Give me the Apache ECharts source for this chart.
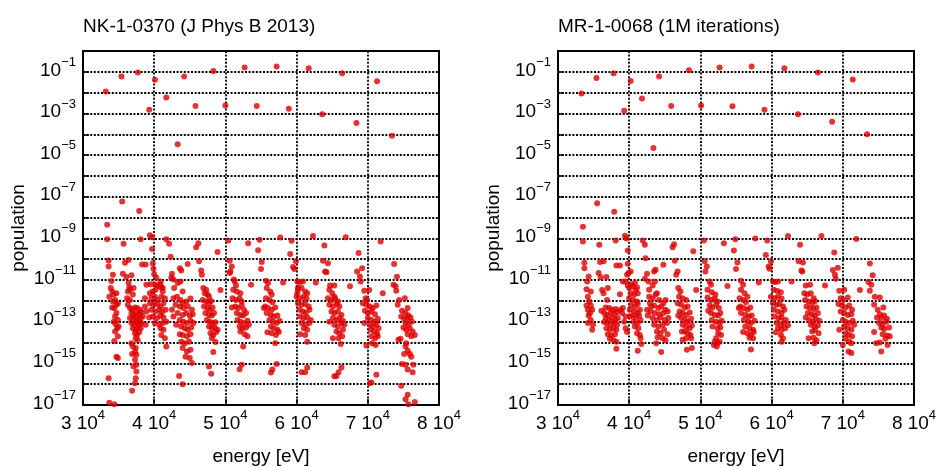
<!DOCTYPE html>
<html><head><meta charset="utf-8">
<script src="https://cdn.jsdelivr.net/npm/echarts@6/dist/echarts.min.js"></script>
<style>html,body{margin:0;padding:0;background:#fff}#c{width:938px;height:467px}</style>
</head><body><div id="c"></div>
<script>
const titles = ['NK-1-0370 (J Phys B 2013)', 'MR-1-0068 (1M iterations)'];
const xName = 'energy [eV]';
const yName = 'population';
const xTickMantissas = [3, 4, 5, 6, 7, 8];
const yLabelExponents = [-1, -3, -5, -7, -9, -11, -13, -15, -17];

// [energy eV, population]
const nkHigh = [[33.2e3,1.15e-2],[35.4e3,6.0e-2],[37.7e3,9.4e-2],[39.3e3,1.5e-3],[40.1e3,4.2e-2],[41.7e3,5.9e-3],[43.3e3,3.3e-5],[44.2e3,6.0e-2],[45.8e3,2.3e-3],[48.3e3,1.1e-1],[50.0e3,2.4e-3],[52.7e3,1.6e-1],[54.4e3,2.3e-3],[57.2e3,1.8e-1],[58.9e3,1.7e-3],[61.7e3,1.5e-1],[63.6e3,9.3e-4],[66.4e3,8.5e-2],[68.4e3,3.5e-4],[71.3e3,3.5e-2],[73.4e3,8.5e-5],[35.5e3,5.9e-8],[37.9e3,2.1e-8],[33.4e3,4.5e-9]];

const nkLow = [
[33.4e3,9e-10],[35.7e3,5.6e-10],[38.1e3,9e-10],[39.4e3,1.4e-9],[39.7e3,1.15e-9],[39.7e3,3.1e-10],[41.7e3,9e-10],[42.1e3,5.6e-10],[46.2e3,5.8e-10],[45.9e3,3.8e-10],
[33.6e3,8.7e-11],[33.6e3,4.5e-11],[35.9e3,6.7e-11],[36.4e3,9.3e-11],[38.3e3,5.6e-11],[38.8e3,5.6e-11],[39.8e3,6.5e-11],[42.3e3,1.3e-10],[43.6e3,3.7e-11],[43.8e3,2.9e-11],[44.7e3,5.9e-11],[46.3e3,7.9e-11],
[34.2e3,1.8e-11],[34.0e3,9.1e-12],[33.9e3,4.1e-12],[33.7e3,1.6e-12],[35.6e3,2.0e-11],[36.1e3,1.4e-11],[36.8e3,1.7e-11],[37.1e3,4.1e-12],[36.5e3,4.4e-12],[36.3e3,2.8e-12],[39.9e3,3.5e-11],[40.0e3,1.9e-11],[40.3e3,1.3e-11],[39.5e3,6.3e-12],[38.9e3,6e-12],[40.2e3,6e-12],[40.9e3,8.5e-12],[41.0e3,4.4e-12],[41.2e3,2.8e-12],[42.5e3,2.0e-11],[42.4e3,1.3e-11],[42.7e3,1.05e-11],[43.7e3,8.5e-12],[43.3e3,7.2e-12],[42.8e3,4.1e-12],[44.0e3,2.8e-12],
[34.1e3,2.8e-12],[34.3e3,2.0e-12],[34.5e3,1.1e-12],[34.7e3,2.3e-12],[34.2e3,9.3e-13],[34.7e3,6.5e-13],[34.4e3,4.5e-13],[34.9e3,7.8e-13],[34.1e3,4.8e-13],[34.7e3,2.6e-13],[34.5e3,1.8e-13],[34.3e3,1.0e-13],[34.9e3,1.2e-13],[34.6e3,7.6e-14],[34.8e3,4.9e-14],[35.0e3,5.9e-14],[34.5e3,3.4e-14],[34.9e3,2.0e-14],[34.4e3,1.2e-14],[34.7e3,2.1e-15],[34.9e3,1.8e-15],[33.6e3,1.9e-16],[33.7e3,1.3e-17],[34.4e3,1.1e-17],
[36.6e3,4.5e-13],[36.9e3,3.7e-13],[37.3e3,4.8e-13],[37.6e3,4.5e-13],[38.0e3,3.7e-13],[36.8e3,2.6e-13],[37.1e3,2.1e-13],[37.5e3,2.6e-13],[37.9e3,2.3e-13],[38.2e3,2.9e-13],[36.6e3,1.5e-13],[37.0e3,1.4e-13],[37.4e3,1.6e-13],[37.7e3,1.2e-13],[38.1e3,1.5e-13],[38.4e3,1.8e-13],[36.8e3,8.7e-14],[37.2e3,7.1e-14],[37.5e3,9.3e-14],[37.9e3,7.1e-14],[38.2e3,8.7e-14],[37.0e3,4.9e-14],[37.4e3,4.1e-14],[37.7e3,4.9e-14],[38.1e3,4.9e-14],[37.3e3,2.8e-14],[37.6e3,2.3e-14],[37.9e3,3.2e-14],[37.4e3,1.6e-14],[37.7e3,1.3e-14],[36.8e3,9.3e-15],[37.0e3,6.5e-15],[37.4e3,5.4e-15],[37.3e3,3.5e-15],[36.9e3,2.8e-15],[37.5e3,2.6e-15],[37.3e3,1.5e-15],[37.5e3,8.5e-16],[37.1e3,7.1e-16],[37.5e3,4.1e-16],[37.4e3,1.9e-16],[37.3e3,1.1e-16],[36.9e3,4.9e-17],[36.4e3,7.2e-12],[36.6e3,3.4e-12],[36.2e3,1.35e-12],[36.6e3,1.1e-12],[37.0e3,2.0e-12],[36.3e3,6.5e-13],
[39.4e3,2.3e-12],[39.8e3,2.8e-12],[40.2e3,3.4e-12],[40.5e3,5.0e-12],[40.9e3,6.0e-12],[41.2e3,4.1e-12],[39.6e3,1.35e-12],[40.1e3,1.6e-12],[40.5e3,1.1e-12],[41.0e3,1.6e-12],[41.5e3,1.35e-12],[39.4e3,7.8e-13],[39.9e3,6.5e-13],[40.4e3,7.0e-13],[40.9e3,5.3e-13],[41.3e3,7.8e-13],[39.6e3,3.7e-13],[40.2e3,3.1e-13],[40.7e3,3.7e-13],[41.1e3,2.9e-13],[41.6e3,3.7e-13],[39.8e3,1.8e-13],[40.4e3,1.5e-13],[40.9e3,2.0e-13],[41.3e3,1.6e-13],[40.1e3,8.7e-14],[40.7e3,7.1e-14],[41.2e3,8.7e-14],[41.7e3,1.0e-13],[40.9e3,4.9e-14],[41.3e3,4.1e-14],[41.0e3,2.3e-14],[41.5e3,1.6e-14],[41.7e3,6.5e-15],[38.7e3,5.3e-13],[38.9e3,3.1e-13],[39.3e3,1.6e-13],[38.8e3,7.1e-14],[38.7e3,1.35e-12],
[42.7e3,1.35e-12],[43.2e3,1.6e-12],[43.7e3,1.1e-12],[44.0e3,7.8e-13],[44.5e3,9.3e-13],[45.1e3,1.3e-12],[43.0e3,6.5e-13],[43.6e3,5.3e-13],[44.1e3,4.5e-13],[44.7e3,5.3e-13],[45.3e3,3.7e-13],[43.3e3,2.6e-13],[44.0e3,2.1e-13],[44.5e3,2.6e-13],[45.0e3,2.0e-13],[45.4e3,2.3e-13],[43.6e3,1.2e-13],[44.1e3,1.0e-13],[44.6e3,8.7e-14],[45.1e3,1.1e-13],[45.5e3,8.7e-14],[43.8e3,5.9e-14],[44.3e3,4.9e-14],[44.7e3,4.1e-14],[45.2e3,5.2e-14],[44.0e3,2.3e-14],[44.6e3,2.0e-14],[45.1e3,2.5e-14],[43.8e3,1.1e-14],[44.3e3,9.3e-15],[44.9e3,1.1e-14],[44.0e3,5.4e-15],[44.6e3,3.7e-15],[45.1e3,4.5e-15],[44.4e3,2.1e-15],[45.0e3,1.8e-15],[45.3e3,1.05e-15],[43.5e3,2.5e-16],[44.0e3,1.0e-16],[42.5e3,3.7e-13],[42.7e3,1.8e-13],[43.1e3,7.1e-14],[43.6e3,2.5e-14],
[46.9e3,4.1e-12],[47.3e3,3.4e-12],[47.1e3,2.3e-12],[47.5e3,2.0e-12],[47.7e3,1.6e-12],[46.8e3,1.1e-12],[47.3e3,9.3e-13],[47.7e3,7.8e-13],[48.0e3,1.0e-12],[47.0e3,5.3e-13],[47.5e3,4.5e-13],[47.8e3,3.7e-13],[48.2e3,4.8e-13],[47.2e3,2.6e-13],[47.7e3,2.1e-13],[48.1e3,2.0e-13],[48.4e3,2.6e-13],[47.4e3,1.2e-13],[47.8e3,1.0e-13],[48.2e3,8.7e-14],[48.6e3,9.3e-14],[47.7e3,5.9e-14],[48.1e3,4.9e-14],[48.5e3,5.2e-14],[48.9e3,4.1e-14],[47.9e3,2.8e-14],[48.3e3,2.3e-14],[48.7e3,3.2e-14],[48.1e3,1.6e-14],[48.6e3,1.05e-14],[48.3e3,3.5e-15],[47.7e3,7.1e-16],[48.0e3,3.2e-16],[49.3e3,3.3e-12],[48.9e3,2.2e-10],[46.6e3,2.9e-11],[46.7e3,1.8e-11],
[50.4e3,7.9e-10],[53.2e3,5.8e-10],[54.8e3,8.6e-10],[54.6e3,2.7e-10],[57.7e3,1.1e-9],[59.3e3,7.7e-10],[62.3e3,1.3e-9],[59.1e3,1.8e-10],[59.9e3,7.9e-11],[55.1e3,7.3e-11],[55.0e3,3.4e-11],[50.6e3,8.5e-11],[50.9e3,4.5e-11],[50.7e3,2.6e-11],[50.6e3,2.2e-11],[51.2e3,1.05e-11],[53.6e3,6.0e-12],[58.1e3,7.7e-12],[62.7e3,7.7e-12],[59.5e3,4.2e-11],[59.7e3,3.4e-11],
[51.3e3,8.6e-12],[51.5e3,5.5e-12],[51.1e3,3.4e-12],[51.6e3,2.8e-12],[52.1e3,2.3e-12],[51.0e3,1.35e-12],[51.5e3,1.1e-12],[52.0e3,1.3e-12],[52.3e3,9.3e-13],[51.4e3,5.3e-13],[51.8e3,4.5e-13],[52.3e3,6.0e-13],[52.6e3,3.7e-13],[51.6e3,2.6e-13],[52.1e3,2.1e-13],[52.5e3,2.0e-13],[52.9e3,2.6e-13],[51.7e3,1.2e-13],[52.1e3,1.0e-13],[52.6e3,8.7e-14],[53.1e3,1.1e-13],[52.0e3,5.9e-14],[52.4e3,4.9e-14],[52.9e3,5.2e-14],[53.3e3,7.1e-14],[52.1e3,3.4e-14],[52.7e3,2.5e-14],[53.1e3,2.0e-14],[52.5e3,6.5e-15],[52.3e3,8.5e-16],[52.0e3,5.2e-16],[50.9e3,4.8e-13],
[55.7e3,9.3e-12],[56.0e3,7.2e-12],[55.8e3,4.1e-12],[56.3e3,2.8e-12],[56.5e3,2.0e-12],[55.7e3,1.35e-12],[56.2e3,1.1e-12],[56.6e3,8.6e-13],[55.6e3,5.3e-13],[56.0e3,4.5e-13],[56.5e3,3.7e-13],[57.0e3,4.8e-13],[55.8e3,2.6e-13],[56.4e3,2.1e-13],[56.8e3,1.8e-13],[57.3e3,2.0e-13],[56.2e3,1.2e-13],[56.7e3,1.0e-13],[57.2e3,8.7e-14],[57.6e3,1.1e-13],[56.4e3,5.9e-14],[56.8e3,4.9e-14],[57.3e3,4.1e-14],[56.5e3,2.8e-14],[57.1e3,2.3e-14],[57.5e3,3.2e-14],[57.0e3,9.3e-15],[57.2e3,9.2e-16],[56.6e3,5.0e-16],[56.4e3,3.6e-16],[55.9e3,3.1e-14],[55.4e3,4.5e-13],
[60.1e3,8.6e-12],[60.5e3,8.0e-12],[60.9e3,8.6e-12],[60.2e3,3.4e-12],[60.7e3,4.1e-12],[61.2e3,2.8e-12],[61.5e3,2.3e-12],[60.0e3,1.6e-12],[60.5e3,1.35e-12],[61.0e3,1.6e-12],[61.4e3,1.3e-12],[60.2e3,7.8e-13],[60.7e3,6.5e-13],[61.2e3,7.0e-13],[61.7e3,5.3e-13],[60.4e3,3.7e-13],[60.9e3,3.1e-13],[61.3e3,2.6e-13],[61.8e3,3.7e-13],[60.5e3,1.8e-13],[61.0e3,1.5e-13],[61.5e3,1.6e-13],[62.0e3,1.2e-13],[60.7e3,8.7e-14],[61.3e3,7.1e-14],[61.8e3,8.7e-14],[61.0e3,4.9e-14],[61.5e3,4.1e-14],[60.5e3,2.5e-14],[61.2e3,2.3e-14],[61.5e3,1.1e-14],[60.7e3,3.7e-16],[61.2e3,3.7e-16],[61.5e3,6.3e-16],[60.2e3,4.4e-12],[60.1e3,2.3e-12],
[63.9e3,4.6e-10],[66.9e3,1.15e-9],[63.7e3,8.5e-11],[64.4e3,6.5e-11],[64.0e3,2.6e-11],[64.2e3,2.4e-11],[64.7e3,5.5e-12],[65.3e3,5.5e-12],[67.5e3,5.0e-12],
[64.6e3,3.4e-12],[65.0e3,2.3e-12],[65.3e3,1.6e-12],[64.4e3,1.35e-12],[64.9e3,1.1e-12],[65.4e3,1.3e-12],[65.8e3,9.3e-13],[64.6e3,6.5e-13],[65.1e3,5.3e-13],[65.6e3,7.0e-13],[66.0e3,5.3e-13],[64.9e3,3.1e-13],[65.3e3,2.6e-13],[65.8e3,3.1e-13],[66.3e3,2.1e-13],[65.1e3,1.5e-13],[65.6e3,1.2e-13],[66.0e3,1.5e-13],[66.5e3,1.1e-13],[64.6e3,1.0e-13],[65.3e3,7.1e-14],[65.8e3,5.9e-14],[66.3e3,8.7e-14],[66.7e3,7.1e-14],[65.6e3,3.4e-14],[66.0e3,2.8e-14],[66.5e3,4.1e-14],[65.9e3,1.6e-14],[66.4e3,2.0e-14],[65.1e3,1.6e-14],[66.2e3,8.4e-15],[66.3e3,6.3e-16],[65.9e3,3.7e-16],[65.6e3,2.5e-16],[65.3e3,2.4e-16],
[68.7e3,2.0e-10],[68.5e3,2.6e-11],[69.2e3,3.7e-11],[68.9e3,1.5e-11],[69.0e3,8.6e-12],[71.8e3,7.2e-10],[69.5e3,3.1e-12],[70.2e3,3.3e-12],[72.1e3,2.3e-12],
[69.7e3,1.35e-12],[69.9e3,1.1e-12],[69.3e3,7.8e-13],[69.8e3,6.5e-13],[70.3e3,5.3e-13],[70.7e3,4.5e-13],[71.2e3,6.0e-13],[69.6e3,3.4e-13],[70.0e3,2.6e-13],[70.5e3,3.1e-13],[71.0e3,2.3e-13],[70.0e3,1.5e-13],[70.5e3,1.2e-13],[71.0e3,1.0e-13],[71.4e3,1.4e-13],[69.5e3,8.7e-14],[70.3e3,7.1e-14],[70.7e3,5.9e-14],[71.2e3,7.1e-14],[71.5e3,4.9e-14],[70.4e3,4.1e-14],[70.9e3,3.4e-14],[71.3e3,2.8e-14],[70.5e3,2.0e-14],[71.0e3,1.6e-14],[71.4e3,2.0e-14],[70.6e3,9.3e-15],[71.1e3,7.7e-15],[69.8e3,7.2e-15],[71.2e3,2.8e-16],[70.5e3,1.2e-16],[70.3e3,1.1e-16],
[73.7e3,5.9e-11],[74.1e3,1.45e-11],[73.6e3,6.0e-12],[73.9e3,5.0e-12],[74.0e3,3.1e-12],[74.4e3,1.1e-12],[75.2e3,1.35e-12],
[75.6e3,4.5e-13],[74.2e3,6.5e-13],[74.8e3,3.4e-13],[75.3e3,2.6e-13],[75.7e3,2.0e-13],[74.7e3,1.8e-13],[75.1e3,1.4e-13],[75.6e3,1.5e-13],[76.0e3,1.6e-13],[75.3e3,8.7e-14],[75.7e3,7.1e-14],[76.2e3,1.0e-13],[75.0e3,5.2e-14],[75.4e3,4.1e-14],[75.9e3,4.9e-14],[76.3e3,3.4e-14],[76.6e3,2.3e-14],[75.6e3,2.5e-14],[76.1e3,2.0e-14],[74.3e3,1.35e-14],[74.6e3,1.5e-14],[75.4e3,9.3e-15],[75.3e3,6.5e-15],[75.6e3,4.0e-15],[75.9e3,2.8e-15],[76.1e3,2.1e-15],[75.1e3,2.8e-15],[74.8e3,9.2e-16],[75.3e3,8.5e-16],[75.6e3,5.0e-16],[76.4e3,8.5e-16],[76.3e3,3.7e-16],[74.7e3,8.5e-17],[75.6e3,3.1e-17],[75.3e3,1.9e-17],[76.6e3,1.4e-17],[75.7e3,1.1e-17]
];

const mrHigh = [[33.3e3,9.2e-3],[35.4e3,5.0e-2],[37.8e3,8.5e-2],[39.3e3,1.35e-3],[40.2e3,3.6e-2],[41.8e3,5.3e-3],[43.4e3,2.2e-5],[44.2e3,5.9e-2],[45.9e3,2.3e-3],[48.4e3,1.2e-1],[50.1e3,2.4e-3],[52.7e3,1.6e-1],[54.5e3,2.2e-3],[57.2e3,1.8e-1],[59.0e3,1.5e-3],[61.8e3,1.5e-1],[63.7e3,9.3e-4],[66.5e3,9.4e-2],[68.5e3,4.0e-4],[71.4e3,4.3e-2],[73.4e3,1.0e-4],[35.5e3,4.9e-8],[37.9e3,1.9e-8],[33.5e3,3.6e-9]];

const mrLow = [
[33.5e3,7.2e-10],[35.8e3,5.0e-10],[38.1e3,8.0e-10],[39.4e3,1.35e-9],[39.6e3,1.0e-9],[39.8e3,2.6e-10],[41.9e3,8.0e-10],[42.2e3,5.0e-10],[46.3e3,5.3e-10],[46.1e3,3.8e-10],[42.3e3,1.1e-10],[33.7e3,6.8e-11],[33.7e3,3.7e-11],[35.9e3,7.3e-11],[36.4e3,7.9e-11],[38.2e3,5.0e-11],[38.7e3,5.0e-11],[39.8e3,6.1e-11],[43.7e3,3.1e-11],[43.5e3,2.6e-11],[44.8e3,5.4e-11],[46.4e3,8.5e-11],[39.9e3,2.2e-11],[40.2e3,2.6e-11],[39.7e3,1.8e-11],[35.7e3,2.2e-11],[36.0e3,1.35e-11],[36.8e3,1.4e-11],[34.3e3,1.5e-11],[34.1e3,8.6e-12],[34.0e3,3.6e-12],[34.6e3,2.8e-12],[34.2e3,1.6e-12],[36.2e3,3.3e-12],[37.0e3,4.1e-12],[36.4e3,2.3e-12],[36.9e3,1.1e-12],[38.7e3,2.1e-12],[39.1e3,8.6e-12],[39.5e3,8.6e-12],[39.8e3,5.5e-12],[40.3e3,6.3e-12],[40.8e3,7.2e-12],[41.1e3,4.4e-12],[42.5e3,2.0e-11],[42.2e3,1.15e-11],[42.7e3,8.6e-12],[43.6e3,8.6e-12],[43.3e3,5.5e-12],[42.8e3,3.4e-12],[43.9e3,2.3e-12],[45.1e3,1.1e-12],
[34.4e3,9.3e-13],[34.0e3,6.0e-13],[34.6e3,6.0e-13],[34.2e3,3.7e-13],[34.8e3,3.7e-13],[34.5e3,2.6e-13],[34.3e3,2.0e-13],[34.6e3,1.2e-13],[34.2e3,8.7e-14],[34.9e3,7.1e-14],[34.8e3,4.1e-14],
[36.7e3,4.8e-13],[37.2e3,4.5e-13],[37.6e3,3.7e-13],[38.1e3,4.1e-13],[36.5e3,2.6e-13],[36.9e3,2.1e-13],[37.4e3,2.6e-13],[37.9e3,2.3e-13],[38.3e3,2.9e-13],[36.7e3,1.5e-13],[37.2e3,1.2e-13],[37.6e3,1.5e-13],[38.1e3,1.2e-13],[36.9e3,8.7e-14],[37.4e3,7.1e-14],[37.9e3,8.7e-14],[38.3e3,7.1e-14],[36.8e3,4.9e-14],[37.3e3,4.1e-14],[37.8e3,4.9e-14],[38.2e3,4.1e-14],[37.0e3,2.5e-14],[37.5e3,2.2e-14],[38.0e3,2.5e-14],[37.3e3,1.5e-14],[37.8e3,1.3e-14],[38.2e3,1.1e-14],[38.2e3,5.0e-15],[36.1e3,3.4e-13],[36.5e3,9.6e-14],[38.4e3,1.5e-13],[38.8e3,3.7e-13],[39.0e3,2.6e-13],[39.1e3,4.5e-13],[39.5e3,1.8e-13],[39.3e3,1.0e-13],[39.5e3,4.9e-14],[39.7e3,3.2e-14],
[40.0e3,4.1e-12],[40.5e3,5.0e-12],[40.9e3,3.4e-12],[40.2e3,2.3e-12],[40.7e3,2.0e-12],[41.2e3,2.3e-12],[40.0e3,1.35e-12],[40.6e3,1.1e-12],[41.1e3,9.3e-13],[40.3e3,6.5e-13],[40.8e3,5.3e-13],[41.2e3,7.0e-13],[40.1e3,3.7e-13],[40.7e3,3.1e-13],[41.2e3,2.6e-13],[41.5e3,3.7e-13],[40.5e3,2.0e-13],[40.9e3,1.6e-13],[41.4e3,2.0e-13],[40.6e3,1.0e-13],[41.2e3,8.7e-14],[41.6e3,1.2e-13],[40.8e3,5.9e-14],[41.3e3,4.9e-14],[41.1e3,2.8e-14],[41.5e3,2.3e-14],[41.6e3,1.6e-14],[41.7e3,8.4e-15],[41.2e3,4.0e-15],[40.1e3,1.8e-13],
[42.8e3,1.6e-12],[43.3e3,1.35e-12],[43.7e3,2.0e-12],[44.2e3,1.1e-12],[44.8e3,7.8e-13],[42.9e3,7.8e-13],[43.5e3,6.0e-13],[44.1e3,4.5e-13],[44.5e3,5.3e-13],[45.1e3,3.7e-13],[43.0e3,3.1e-13],[43.6e3,2.6e-13],[44.2e3,2.3e-13],[44.8e3,2.6e-13],[45.4e3,3.1e-13],[43.3e3,1.5e-13],[43.9e3,1.2e-13],[44.4e3,1.6e-13],[45.0e3,1.2e-13],[45.5e3,1.5e-13],[43.5e3,7.1e-14],[44.1e3,5.9e-14],[44.7e3,7.1e-14],[45.3e3,8.7e-14],[43.9e3,3.4e-14],[44.4e3,2.8e-14],[44.9e3,4.1e-14],[45.4e3,2.5e-14],[44.0e3,1.8e-14],[44.7e3,1.6e-14],[45.1e3,1.3e-14],[43.8e3,9.3e-15],[44.5e3,3.5e-15],[42.5e3,3.7e-13],[42.6e3,2.0e-13],[43.1e3,5.3e-13],
[49.0e3,2.4e-10],[50.5e3,8.0e-10],[53.3e3,5.8e-10],[54.9e3,9.0e-10],[54.7e3,2.6e-10],[57.7e3,1.0e-9],[59.4e3,8.0e-10],[59.2e3,1.6e-10],[62.3e3,1.3e-9],[59.9e3,7.9e-11],[59.6e3,4.5e-11],[59.7e3,3.5e-11],[55.2e3,7.0e-11],[55.0e3,3.4e-11],[50.6e3,7.9e-11],[50.9e3,4.5e-11],[50.7e3,2.6e-11],[46.8e3,2.6e-11],[46.6e3,1.8e-11],[49.4e3,3.3e-12],[53.8e3,5.2e-12],[58.2e3,7.7e-12],[62.8e3,8.6e-12],
[46.9e3,4.1e-12],[47.2e3,2.8e-12],[47.0e3,1.6e-12],[47.5e3,1.35e-12],[48.0e3,1.1e-12],[46.8e3,7.8e-13],[47.3e3,6.5e-13],[47.8e3,4.8e-13],[48.2e3,5.3e-13],[47.1e3,3.1e-13],[47.5e3,2.6e-13],[48.0e3,2.1e-13],[48.5e3,2.8e-13],[47.3e3,1.5e-13],[47.8e3,1.2e-13],[48.2e3,1.0e-13],[48.7e3,1.4e-13],[47.5e3,7.1e-14],[48.0e3,5.9e-14],[48.5e3,4.9e-14],[48.8e3,6.6e-14],[47.8e3,3.4e-14],[48.2e3,2.8e-14],[48.6e3,2.3e-14],[47.4e3,3.4e-14],[47.5e3,1.35e-14],[48.0e3,1.6e-14],[48.7e3,1.6e-14],[48.1e3,4.5e-15],[48.8e3,5.4e-15],[46.9e3,2.0e-13],
[51.3e3,8.6e-12],[51.5e3,6.0e-12],[51.0e3,3.4e-12],[51.6e3,2.6e-12],[52.1e3,2.0e-12],[51.0e3,1.45e-12],[51.5e3,1.1e-12],[52.0e3,1.3e-12],[52.4e3,9.3e-13],[51.3e3,6.0e-13],[51.7e3,4.8e-13],[52.2e3,6.5e-13],[52.6e3,4.5e-13],[51.5e3,2.6e-13],[52.0e3,2.1e-13],[52.5e3,2.0e-13],[52.8e3,2.6e-13],[51.6e3,1.2e-13],[52.2e3,1.0e-13],[52.7e3,8.7e-14],[53.0e3,1.1e-13],[51.7e3,5.9e-14],[52.4e3,4.9e-14],[52.8e3,5.2e-14],[52.5e3,2.8e-14],[52.9e3,2.3e-14],[52.2e3,1.6e-14],[52.0e3,1.1e-14],[52.4e3,9.3e-15],[52.7e3,1.1e-14],[52.3e3,6.5e-15],[51.9e3,7.7e-15],[51.1e3,3.4e-13],
[55.7e3,9.3e-12],[56.0e3,6.0e-12],[55.7e3,3.4e-12],[56.2e3,2.3e-12],[56.6e3,1.6e-12],[55.5e3,1.35e-12],[56.0e3,1.1e-12],[56.4e3,8.6e-13],[55.6e3,5.3e-13],[56.1e3,4.5e-13],[56.6e3,3.7e-13],[57.0e3,4.8e-13],[55.7e3,2.6e-13],[56.3e3,2.1e-13],[56.8e3,1.8e-13],[57.2e3,2.0e-13],[56.1e3,1.2e-13],[56.7e3,1.0e-13],[57.1e3,8.7e-14],[57.6e3,1.1e-13],[56.3e3,5.9e-14],[56.9e3,4.9e-14],[57.4e3,4.1e-14],[56.6e3,2.8e-14],[57.1e3,2.3e-14],[57.5e3,3.2e-14],[57.4e3,1.6e-14],[56.9e3,1.7e-14],[57.1e3,4.6e-15],[56.0e3,3.2e-14],[55.4e3,4.5e-13],
[60.2e3,8.6e-12],[60.5e3,8.0e-12],[60.9e3,8.6e-12],[60.3e3,3.4e-12],[60.8e3,3.0e-12],[61.3e3,2.6e-12],[59.9e3,1.6e-12],[60.4e3,1.35e-12],[60.9e3,1.6e-12],[61.4e3,1.3e-12],[60.2e3,7.8e-13],[60.7e3,6.5e-13],[61.1e3,7.0e-13],[61.6e3,5.3e-13],[60.3e3,3.7e-13],[60.9e3,3.1e-13],[61.4e3,2.6e-13],[61.8e3,3.7e-13],[60.4e3,1.8e-13],[61.0e3,1.5e-13],[61.4e3,1.6e-13],[62.0e3,1.2e-13],[60.7e3,8.7e-14],[61.3e3,7.1e-14],[61.7e3,8.7e-14],[62.3e3,6.7e-14],[60.9e3,4.9e-14],[61.4e3,4.1e-14],[61.9e3,4.9e-14],[61.3e3,2.3e-14],[61.6e3,1.6e-14],[61.4e3,1.1e-14],[60.6e3,3.1e-14],
[64.0e3,5.0e-10],[67.0e3,1.3e-9],[63.8e3,8.1e-11],[64.4e3,7.0e-11],[64.2e3,2.9e-11],[64.3e3,2.6e-11],[68.8e3,2.1e-10],[68.6e3,3.0e-11],[69.3e3,3.9e-11],[68.9e3,1.8e-11],[69.0e3,1.15e-11],[71.9e3,9.3e-10],[73.8e3,6.3e-11],[74.2e3,1.7e-11],[73.6e3,8.0e-12],[74.0e3,6.0e-12],[73.8e3,3.1e-12],[67.5e3,5.5e-12],[72.4e3,3.3e-12],
[64.8e3,5.5e-12],[65.4e3,6.0e-12],[64.6e3,2.3e-12],[65.0e3,2.0e-12],[65.5e3,2.3e-12],[65.9e3,1.35e-12],[64.7e3,1.1e-12],[65.2e3,9.3e-13],[65.7e3,7.8e-13],[66.1e3,1.0e-12],[64.9e3,5.3e-13],[65.4e3,4.5e-13],[65.9e3,4.1e-13],[66.3e3,4.8e-13],[65.1e3,2.6e-13],[65.6e3,2.3e-13],[66.0e3,2.0e-13],[66.5e3,2.6e-13],[64.8e3,1.6e-13],[65.3e3,1.2e-13],[65.8e3,1.0e-13],[66.2e3,1.4e-13],[66.7e3,1.1e-13],[65.5e3,7.1e-14],[66.0e3,5.9e-14],[66.5e3,6.5e-14],[65.7e3,3.4e-14],[66.1e3,4.1e-14],[66.6e3,2.8e-14],[65.2e3,1.6e-14],[65.9e3,1.7e-14],[66.3e3,1.3e-14],[66.0e3,9.3e-15],
[69.5e3,3.1e-12],[70.2e3,3.4e-12],[69.7e3,1.35e-12],[70.1e3,1.1e-12],[70.7e3,1.45e-12],[69.4e3,7.0e-13],[69.9e3,6.0e-13],[70.4e3,4.8e-13],[70.9e3,6.0e-13],[71.3e3,3.7e-13],[69.7e3,3.1e-13],[70.2e3,2.6e-13],[70.7e3,2.1e-13],[71.2e3,2.3e-13],[70.0e3,1.2e-13],[70.4e3,1.0e-13],[70.9e3,8.7e-14],[71.4e3,1.1e-13],[71.6e3,7.1e-14],[69.5e3,4.1e-14],[70.2e3,5.9e-14],[70.7e3,4.9e-14],[71.2e3,4.1e-14],[70.4e3,2.8e-14],[70.8e3,2.3e-14],[71.3e3,2.0e-14],[70.4e3,1.5e-14],[70.9e3,1.1e-14],[70.0e3,7.7e-15],[71.2e3,9.3e-15],[70.8e3,3.7e-15],[71.2e3,3.1e-15],
[74.5e3,1.6e-12],[75.2e3,1.45e-12],[74.4e3,6.5e-13],[74.9e3,3.7e-13],[75.7e3,4.8e-13],[75.2e3,2.3e-13],[75.8e3,2.0e-13],[74.8e3,1.6e-13],[75.4e3,1.5e-13],[76.2e3,1.4e-13],[75.1e3,8.7e-14],[75.6e3,7.1e-14],[76.1e3,1.0e-13],[75.4e3,5.2e-14],[75.8e3,4.5e-14],[76.5e3,5.2e-14],[74.4e3,3.2e-14],[75.6e3,2.5e-14],[76.2e3,2.2e-14],[76.6e3,2.0e-14],[74.7e3,9.3e-15],[75.2e3,1.0e-14],[76.3e3,7.7e-15],[75.4e3,3.7e-15],[76.0e3,1.5e-14]
];

const FONT = '"Liberation Sans", Arial, Helvetica, sans-serif';
const RED = '#dd0000';
const gridLeft = [83, 558];

const rich = {
  b: { fontFamily: FONT, fontSize: 19, color: '#000', lineHeight: 24, verticalAlign: 'bottom' },
  s: { fontFamily: FONT, fontSize: 13, color: '#000', lineHeight: 13, verticalAlign: 'top' }
};

function mkX(i) {
  return {
    gridIndex: i, type: 'value', min: 30000, max: 80000, interval: 10000,
    name: xName, nameLocation: 'middle', nameGap: 42,
    nameTextStyle: { fontFamily: FONT, fontSize: 19, color: '#000' },
    axisLine: { show: true, onZero: false, lineStyle: { color: '#000', width: 2 } },
    axisTick: { show: true, inside: true, length: 6, lineStyle: { color: '#000', width: 1.5 } },
    axisLabel: {
      margin: 4, rich: rich,
      formatter: function (v) {
        const m = Math.round(v / 10000);
        return xTickMantissas.indexOf(m) >= 0 ? '{b|' + m + ' 10}{s|4}' : '';
      }
    },
    splitLine: { show: true, lineStyle: { color: '#000', width: 1.8, type: [2, 1.6] } }
  };
}
function mkY(i) {
  return {
    gridIndex: i, type: 'log', logBase: 10, min: 1e-17, max: 1, interval: 1,
    name: yName, nameLocation: 'middle', nameGap: 55, nameRotate: 90,
    nameTextStyle: { fontFamily: FONT, fontSize: 19, color: '#000' },
    axisLine: { show: true, onZero: false, lineStyle: { color: '#000', width: 2 } },
    axisTick: { show: true, inside: true, length: 6, lineStyle: { color: '#000', width: 1.5 } },
    axisLabel: {
      margin: 7, rich: rich, padding: [0, 0, 8, 0],
      showMinLabel: true, showMaxLabel: true,
      formatter: function (v) {
        const e = Math.round(Math.log10(v));
        return yLabelExponents.indexOf(e) >= 0 ? '{b|10}{s|\u2212' + Math.abs(e) + '}' : '';
      }
    },
    splitLine: { show: true, lineStyle: { color: '#000', width: 1.8, type: [2, 1.6] } }
  };
}

const chart = echarts.init(document.getElementById('c'), null, { renderer: 'canvas' });
chart.setOption({
  animation: false,
  backgroundColor: '#fff',
  title: titles.map((t, i) => ({
    text: t, left: gridLeft[i], top: 17, padding: 0,
    textStyle: { fontFamily: FONT, fontSize: 19, fontWeight: 'normal', color: '#000' }
  })),
  grid: gridLeft.map(l => ({
    left: l, top: 51, width: 356, height: 354, show: true, borderColor: '#000', borderWidth: 2,
    containLabel: false, outerBoundsMode: 'none'
  })),
  xAxis: [mkX(0), mkX(1)],
  yAxis: [mkY(0), mkY(1)],
  series: [
    { type: 'scatter', xAxisIndex: 0, yAxisIndex: 0, data: nkHigh.concat(nkLow), symbol: 'circle', symbolSize: 6, itemStyle: { color: RED }, silent: true },
    { type: 'scatter', xAxisIndex: 1, yAxisIndex: 1, data: mrHigh.concat(mrLow), symbol: 'circle', symbolSize: 6, itemStyle: { color: RED }, silent: true }
  ]
});
</script>
</body></html>
